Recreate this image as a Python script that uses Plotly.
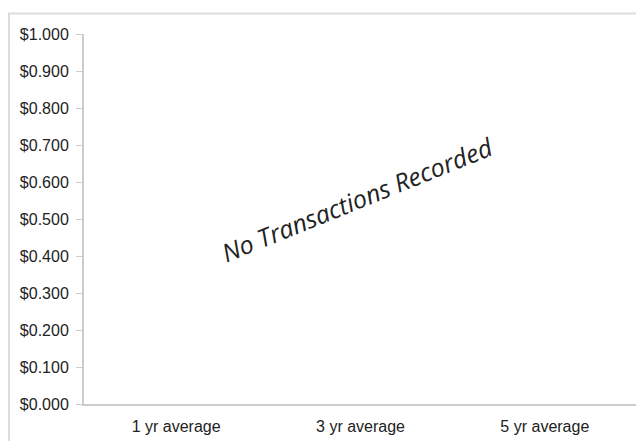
import plotly.graph_objects as go

categories = ["1 yr average", "3 yr average", "5 yr average"]
values = [None, None, None]
y_ticks = [0.0, 0.1, 0.2, 0.3, 0.4, 0.5, 0.6, 0.7, 0.8, 0.9, 1.0]
message = "No Transactions Recorded"

fig = go.Figure()
fig.add_trace(go.Bar(x=categories, y=values, marker_color="#4472c4", showlegend=False))

fig.update_layout(
    width=636, height=433,
    margin=dict(l=76, r=7, t=26, b=37),
    paper_bgcolor="white", plot_bgcolor="white",
    font=dict(family="Liberation Sans, Arial, sans-serif", size=16, color="#222222"),
    xaxis=dict(
        type="category", categoryorder="array", categoryarray=categories,
        showline=True, linecolor="#cccccc", linewidth=2,
        ticks="", showgrid=False, zeroline=False,
        ticklabelstandoff=7,
        tickfont=dict(size=16, color="#222222"),
    ),
    yaxis=dict(
        range=[0, 1], tickvals=y_ticks, tickformat="$.3f",
        showline=True, linecolor="#cccccc", linewidth=2,
        ticks="outside", ticklen=6, tickcolor="#cccccc", tickwidth=1,
        showgrid=False, zeroline=False,
        ticklabelstandoff=4,
        tickfont=dict(size=16, color="#222222"),
    ),
    annotations=[dict(
        text=message, xref="paper", yref="paper", x=0.494, y=0.555,
        showarrow=False, textangle=-22,
        font=dict(family="Open Sans, Noto Sans, sans-serif", size=25,
                  color="#222222", style="italic"),
    )],
    shapes=[dict(
        type="rect", xref="paper", yref="paper",
        x0=-0.1356, x1=1.05, y0=-0.2, y1=1.0555,
        line=dict(color="#dddddd", width=2), layer="below",
    )],
)

fig.write_html("out.html")
